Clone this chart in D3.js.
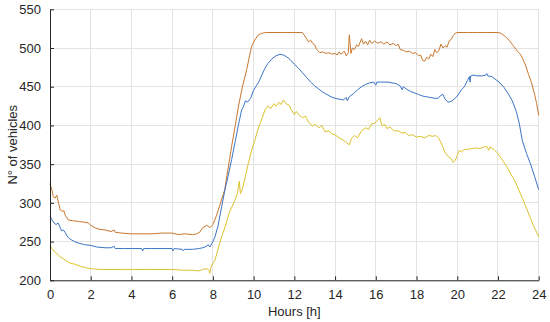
<!DOCTYPE html>
<html><head><meta charset="utf-8">
<script src="https://cdn.jsdelivr.net/npm/d3@7"></script>
<style>body{margin:0;background:#fff}svg{display:block}text{font-family:"Liberation Sans",Arial,sans-serif}</style>
</head><body><svg id="c" width="550" height="322"></svg>
<script>
const xTicks = [0,2,4,6,8,10,12,14,16,18,20,22,24];
const yTicks = [200,250,300,350,400,450,500,550];
const xLabel = "Hours [h]";
const yLabel = "N° of vehicles";

const orange = [[0,325],[0.1,316],[0.16,308],[0.25,306],[0.33,310],[0.42,300],[0.5,291],[0.6,289],[0.68,290],[0.75,284],[0.9,278],[1.1,277],[1.4,276],[1.7,275],[1.88,274],[2.0,271],[2.2,268],[2.4,266],[2.7,265],[3.0,263],[3.15,265],[3.2,262],[3.5,261],[4.0,260],[4.5,260],[5.0,260],[5.5,261],[6.0,261],[6.3,259],[6.6,260],[7.0,259],[7.2,260],[7.35,262],[7.5,268],[7.7,271],[7.85,268],[8.0,272],[8.15,282],[8.27,291],[8.4,302],[8.58,317],[8.75,345],[8.92,373],[9.1,400],[9.25,424],[9.45,450],[9.66,472],[9.8,490],[9.9,502],[10.05,510],[10.23,517],[10.4,519],[10.6,520],[11,520],[11.5,520],[12,520],[12.4,520],[12.55,514],[12.7,508],[12.8,510],[12.9,506],[13.0,504],[13.1,498],[13.25,494],[13.4,495],[13.55,493],[13.7,494],[13.85,492],[14.0,493],[14.1,491],[14.2,495],[14.3,492],[14.45,496],[14.55,490],[14.65,494],[14.7,517],[14.78,493],[14.85,500],[14.95,498],[15.05,504],[15.15,502],[15.3,512],[15.4,505],[15.5,509],[15.6,504],[15.7,510],[15.8,506],[15.95,509],[16.1,506],[16.25,508],[16.4,505],[16.55,508],[16.7,504],[16.85,506],[17.0,503],[17.1,505],[17.2,498],[17.35,497],[17.5,495],[17.65,496],[17.8,493],[17.95,494],[18.1,490],[18.2,491],[18.3,484],[18.4,483],[18.5,488],[18.6,486],[18.7,492],[18.8,489],[18.9,498],[19.0,494],[19.1,497],[19.2,505],[19.3,500],[19.4,503],[19.5,501],[19.6,509],[19.7,511],[19.8,516],[19.9,519],[20.0,520],[20.5,520],[21,520],[21.5,520],[22.0,520],[22.15,519],[22.35,515],[22.55,510],[22.75,503],[22.95,496],[23.1,492],[23.2,487],[23.35,478],[23.5,466],[23.65,455],[23.8,440],[23.9,428],[24,413]];

const blue = [[0,283],[0.1,278],[0.2,274],[0.3,272],[0.4,274],[0.5,268],[0.57,264],[0.65,265],[0.74,262],[0.82,258],[0.9,255],[1.0,253],[1.2,250],[1.4,248],[1.7,246],[2.0,245],[2.3,243],[2.7,242],[3.0,242],[3.15,244],[3.2,241],[3.6,241],[4.0,241],[4.5,241],[4.55,238],[4.6,241],[5.0,241],[5.5,241],[6.0,241],[6.05,238],[6.1,241],[6.5,240],[6.55,238],[6.6,240],[7.0,240],[7.3,241],[7.5,242],[7.7,244],[7.76,246],[7.85,243],[8.0,250],[8.1,256],[8.25,270],[8.43,295],[8.6,318],[8.75,335],[8.92,356],[9.1,380],[9.25,400],[9.41,420],[9.5,424],[9.6,432],[9.7,430],[9.85,435],[9.99,445],[10.1,450],[10.23,455],[10.4,465],[10.56,474],[10.7,480],[10.9,486],[11.1,490],[11.3,492],[11.45,491],[11.6,489],[11.8,485],[12.0,479],[12.2,474],[12.4,468],[12.6,462],[12.8,456],[13.0,451],[13.2,447],[13.4,443],[13.6,440],[13.8,437],[14.0,435],[14.2,434],[14.4,433],[14.55,436],[14.6,432],[14.7,437],[14.9,441],[15.1,446],[15.3,450],[15.5,453],[15.7,455],[15.9,456],[16.0,452],[16.05,456],[16.3,456],[16.6,456],[16.8,455],[17.0,454],[17.2,451],[17.3,446],[17.35,450],[17.5,447],[17.7,444],[17.9,442],[18.1,440],[18.3,438],[18.5,437],[18.7,436],[18.9,435],[19.05,435],[19.2,439],[19.3,440],[19.4,434],[19.55,430],[19.7,431],[19.85,434],[20.0,438],[20.2,446],[20.35,450],[20.5,458],[20.6,463],[20.63,456],[20.66,464],[20.8,465],[21.0,464],[21.2,464],[21.4,465],[21.45,467],[21.5,464],[21.7,463],[21.9,459],[22.1,455],[22.3,449],[22.5,441],[22.7,432],[22.9,418],[23.05,402],[23.2,380],[23.4,364],[23.6,350],[23.8,334],[24,317]];

const yellow = [[0,245],[0.1,241],[0.25,236],[0.4,233],[0.5,230],[0.65,228],[0.8,225],[1.0,222],[1.2,221],[1.5,218],[1.8,216],[2.0,215],[2.5,214],[3.0,214],[3.5,214],[4.0,214],[5.0,214],[6.0,214],[6.5,213],[7.0,213],[7.3,212],[7.5,214],[7.7,215],[7.8,213],[7.85,209],[7.9,217],[8.0,222],[8.1,226],[8.3,245],[8.45,258],[8.6,269],[8.8,287],[9.09,304],[9.2,312],[9.3,328],[9.35,312],[9.45,318],[9.6,335],[9.74,351],[9.9,368],[10.05,380],[10.2,394],[10.35,405],[10.56,420],[10.7,425],[10.85,422],[11.0,428],[11.1,425],[11.25,430],[11.35,427],[11.46,433],[11.6,428],[11.75,426],[11.85,420],[12.0,414],[12.1,418],[12.25,413],[12.4,410],[12.55,412],[12.7,404],[12.9,399],[13.0,402],[13.2,397],[13.35,400],[13.5,392],[13.7,393],[13.85,389],[14.0,388],[14.2,384],[14.4,381],[14.55,378],[14.7,375],[14.8,383],[14.95,387],[15.1,384],[15.3,393],[15.5,397],[15.65,395],[15.8,402],[15.95,403],[16.1,407],[16.2,410],[16.3,400],[16.45,401],[16.55,396],[16.7,398],[16.9,393],[17.1,393],[17.3,390],[17.45,391],[17.6,387],[17.8,388],[18.0,385],[18.2,386],[18.4,384],[18.6,387],[18.8,386],[18.95,387],[19.1,383],[19.25,375],[19.4,365],[19.55,360],[19.7,357],[19.8,352],[19.9,355],[20.0,361],[20.1,368],[20.2,366],[20.35,369],[20.5,369],[20.7,370],[20.9,371],[21.1,370],[21.3,372],[21.45,373],[21.55,368],[21.6,372],[21.8,369],[21.95,365],[22.1,360],[22.3,352],[22.5,344],[22.65,336],[22.8,330],[23.0,318],[23.2,306],[23.4,293],[23.6,280],[23.75,270],[23.9,262],[24,256]];

const seriesList = [
  {data: orange, color: "#C8772F"},
  {data: blue, color: "#3A74C6"},
  {data: yellow, color: "#DCC22A"}
];

const svg = d3.select("#c");
const L = 50, R = 538.7, T = 9.3, B = 280.3;
const x = d3.scaleLinear().domain([0,24]).range([L,R]);
const y = d3.scaleLinear().domain([200,550]).range([B,T]);

// grid
const g = svg.append("g");
g.selectAll(".gx").data(xTicks).join("line")
  .attr("x1", d=>x(d)).attr("x2", d=>x(d)).attr("y1", T).attr("y2", B)
  .attr("stroke", "#e3e3e3").attr("stroke-width", 1).attr("shape-rendering","crispEdges");
g.selectAll(".gy").data(yTicks).join("line")
  .attr("x1", L).attr("x2", R).attr("y1", d=>y(d)).attr("y2", d=>y(d))
  .attr("stroke", "#e3e3e3").attr("stroke-width", 1).attr("shape-rendering","crispEdges");

// lines
const line = d3.line().x(d=>x(d[0])).y(d=>y(d[1]));
seriesList.forEach(s=>{
  svg.append("path").datum(s.data).attr("d", line)
    .attr("fill","none").attr("stroke", s.color).attr("stroke-width", 1)
    .attr("stroke-linejoin","round");
});

// axes
const axCol = "#262626";
const xAxis = d3.axisBottom(x).tickValues(xTicks).tickSizeInner(-4).tickSizeOuter(0).tickPadding(9);
const yAxis = d3.axisLeft(y).tickValues(yTicks).tickSizeInner(-4).tickSizeOuter(0).tickPadding(9);
const gx = svg.append("g").attr("transform", `translate(0,${B})`).call(xAxis);
const gy = svg.append("g").attr("transform", `translate(${L},0)`).call(yAxis);
[gx, gy].forEach(a=>{
  a.select(".domain").attr("stroke", axCol).attr("stroke-width", 1);
  a.selectAll(".tick line").attr("stroke", axCol);
  a.selectAll(".tick text").attr("fill", axCol).style("font-size","13px")
    .style("font-family","'Liberation Sans', Arial, sans-serif");
});

svg.append("text").attr("x", (L+R)/2).attr("y", 316).attr("text-anchor","middle")
  .attr("fill", axCol).style("font-size","13px").text(xLabel);
svg.append("text").attr("transform", `translate(17,${(T+B)/2}) rotate(-90)`)
  .attr("text-anchor","middle").attr("fill", axCol).style("font-size","13px").text(yLabel);
</script></body></html>
